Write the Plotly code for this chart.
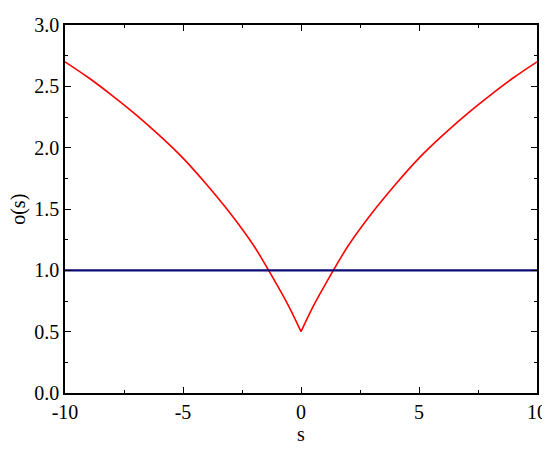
import plotly.graph_objects as go

# o(s) curve (symmetric about s = 0)
S_VALUES = [-10, -9, -8, -7, -6, -5, -4, -3, -2, -1, -0.5, 0,
            0.5, 1, 2, 3, 4, 5, 6, 7, 8, 9, 10]
O_VALUES = [2.70, 2.57, 2.425, 2.27, 2.10, 1.915, 1.70, 1.465, 1.20, 0.875, 0.70, 0.50,
            0.70, 0.875, 1.20, 1.465, 1.70, 1.915, 2.10, 2.27, 2.425, 2.57, 2.70]

# horizontal reference line
REF_S = [-10, 10]
REF_O = [1.0, 1.0]

X_TICKS = [-10, -5, 0, 5, 10]
X_LABELS = ["-10", "-5", "0", "5", "10"]
Y_TICKS = [0.0, 0.5, 1.0, 1.5, 2.0, 2.5, 3.0]

FONT = "Liberation Serif"

mid = S_VALUES.index(0)

fig = go.Figure()
# left and right branches drawn separately so the cusp at s=0 stays sharp
fig.add_trace(go.Scatter(x=S_VALUES[:mid + 1], y=O_VALUES[:mid + 1], mode="lines",
                         line=dict(color="#ff0000", width=1.6, shape="spline", smoothing=1),
                         showlegend=False))
fig.add_trace(go.Scatter(x=S_VALUES[mid:], y=O_VALUES[mid:], mode="lines",
                         line=dict(color="#ff0000", width=1.6, shape="spline", smoothing=1),
                         showlegend=False))
fig.add_trace(go.Scatter(x=REF_S, y=REF_O, mode="lines",
                         line=dict(color="#0b0b78", width=2.2),
                         showlegend=False))

axis_style = dict(
    showgrid=False, zeroline=False,
    showline=True, linecolor="black", linewidth=1.5, mirror="ticks",
    ticks="inside", ticklen=6, tickwidth=1.3, tickcolor="black",
    tickfont=dict(family=FONT, size=20, color="black"),
    ticklabeloverflow="allow",
)

fig.update_xaxes(
    range=[-10, 10], tickvals=X_TICKS, ticktext=X_LABELS,
    minor=dict(ticks="inside", ticklen=3, tickwidth=1.2, tickcolor="black", dtick=2.5),
    title=dict(text="s", font=dict(family=FONT, size=20, color="black"), standoff=2),
    **axis_style,
)
fig.update_yaxes(
    range=[0, 3], tickvals=Y_TICKS, tickformat=".1f",
    minor=dict(ticks="inside", ticklen=3, tickwidth=1.2, tickcolor="black", dtick=0.25),
    **axis_style,
)

# y title as an annotation so it can sit further left than the axis title allows
fig.add_annotation(
    text="o(s)", textangle=-90, showarrow=False,
    xref="paper", yref="paper", x=-0.1, y=0.5, xanchor="center", yanchor="middle",
    font=dict(family=FONT, size=20, color="black"),
)

fig.update_layout(
    width=550, height=450,
    plot_bgcolor="white", paper_bgcolor="white",
    margin=dict(l=57, r=21, t=6, b=65),
)

fig.write_html("out.html")
